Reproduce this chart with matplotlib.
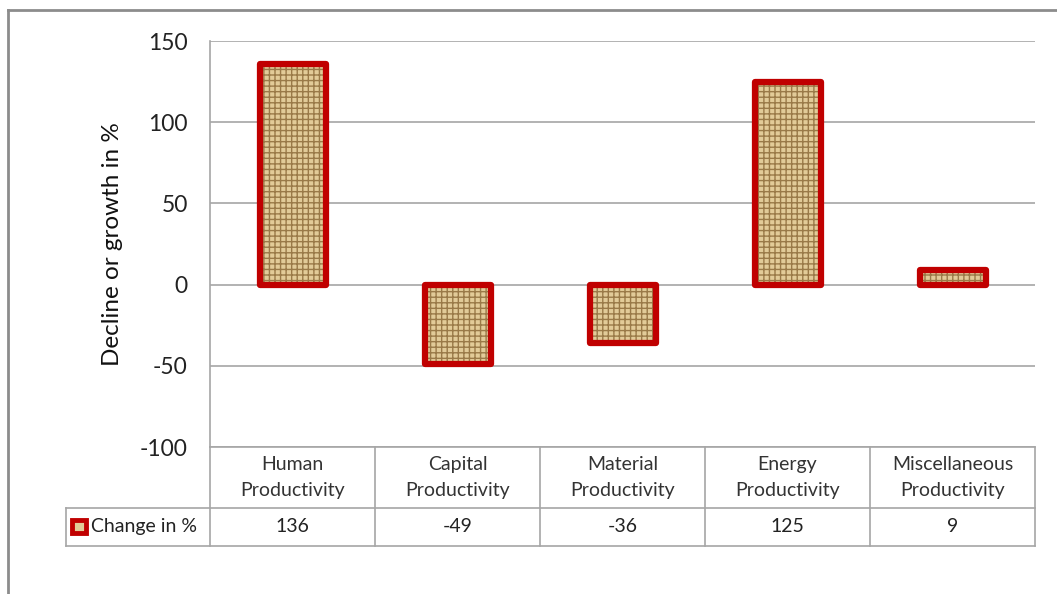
import numpy as np
import matplotlib.pyplot as plt
from matplotlib.lines import Line2D
from matplotlib.patches import Rectangle

plt.rcParams['font.family'] = ['Lato', 'DejaVu Sans']
plt.rcParams['hatch.linewidth'] = 1.0

categories = ['Human\nProductivity', 'Capital\nProductivity', 'Material\nProductivity',
              'Energy\nProductivity', 'Miscellaneous\nProductivity']
values = [136, -49, -36, 125, 9]
series_name = 'Change in %'
yticks = [-100, -50, 0, 50, 100, 150]

grid_col = '#a6a6a6'
red = '#c00000'
tan = '#e2cb98'
brown = '#9a7a48'

fig = plt.figure(figsize=(10.57, 5.94), dpi=100)
ax = fig.add_axes([210 / 1057, 1 - 447 / 594, 825 / 1057, 406 / 594])

x = np.arange(len(values))
# textured fill, then the red outline on top
ax.bar(x, values, width=0.4, color=tan, hatch='+++', edgecolor=brown, linewidth=0, zorder=2)
ax.bar(x, values, width=0.4, fill=False, edgecolor=red, linewidth=4.5, joinstyle='round', zorder=3)

ax.set_xlim(-0.5, len(values) - 0.5)
ax.set_ylim(-100, 150)
ax.set_yticks(yticks)
ax.set_yticklabels([str(v) for v in yticks], fontsize=16.5, color='#222222')
ax.tick_params(axis='y', length=0, pad=16)
ax.set_xticks([])
ax.yaxis.grid(True, color=grid_col, linewidth=1.2, zorder=0)
for s in ['top', 'right', 'bottom']:
    ax.spines[s].set_visible(False)
ax.spines['left'].set_color(grid_col)
ax.spines['left'].set_linewidth(1.2)
ax.set_ylabel('Decline or growth in %', fontsize=17.5, labelpad=12, color='#111111')

# data table under the plot
tr = ax.get_xaxis_transform()
y_head = -0.150
y_row = -0.244
x_left = -0.5 - 144 / 165
lk = dict(color=grid_col, linewidth=1.2, transform=tr, clip_on=False)
ax.add_line(Line2D([-0.5, len(values) - 0.5], [0, 0], **lk))
ax.add_line(Line2D([x_left, len(values) - 0.5], [y_head, y_head], **lk))
ax.add_line(Line2D([x_left, len(values) - 0.5], [y_row, y_row], **lk))
ax.add_line(Line2D([x_left, x_left], [y_head, y_row], **lk))
ax.add_line(Line2D([-0.5, -0.5], [0, y_row], **lk))
for i in range(len(values)):
    ax.add_line(Line2D([i + 0.5, i + 0.5], [0, y_row], **lk))
    ax.text(i, y_head / 2, categories[i], transform=tr, ha='center', va='center',
            fontsize=14, color='#333333', linespacing=1.6)
    ax.text(i, (y_head + y_row) / 2, str(values[i]), transform=tr, ha='center',
            va='center', fontsize=14, color='#222222')

# legend key in the table row
kx = x_left + 0.035
ax.add_patch(Rectangle((kx, (y_head + y_row) / 2 - 0.016), 0.085, 0.032, transform=tr,
                       facecolor=tan, edgecolor=red, linewidth=3.5, clip_on=False))
ax.text(kx + 0.115, (y_head + y_row) / 2, series_name, transform=tr, ha='left', va='center',
        fontsize=14, color='#222222')

# outer chart frame (partly visible)
fig.add_artist(Line2D([8 / 1057, 1.0], [1 - 10 / 594, 1 - 10 / 594], color='#8c8c8c', linewidth=2))
fig.add_artist(Line2D([8 / 1057, 8 / 1057], [0, 1 - 10 / 594], color='#8c8c8c', linewidth=2))

fig.savefig('out.png', dpi=100)
